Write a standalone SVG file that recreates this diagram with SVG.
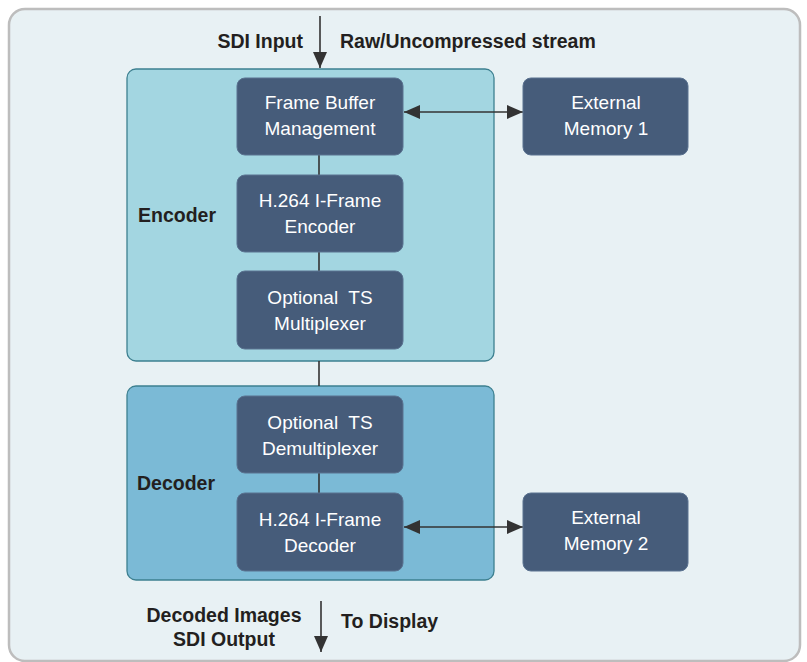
<svg xmlns="http://www.w3.org/2000/svg" width="807" height="662" viewBox="0 0 807 662">
<defs>
<marker id="ah" viewBox="0 0 16 14" refX="16" refY="7" markerWidth="16" markerHeight="14" markerUnits="userSpaceOnUse" orient="auto-start-reverse">
<path d="M0,0 L16,7 L0,14 Z" fill="#333333"/>
</marker>
<style>
.blk{fill:#465c7a;stroke:#5a7290;stroke-width:1}
.bt{font-family:"Liberation Sans",Arial,sans-serif;font-size:19px;fill:#ffffff;text-anchor:middle;white-space:pre}
.lb{font-family:"Liberation Sans",Arial,sans-serif;font-size:19.5px;font-weight:bold;fill:#231f20}
.ln{stroke:#333333;stroke-width:1.6;fill:none}
</style>
</defs>
<rect x="9" y="9" width="791" height="652" rx="16" fill="#e8f1f4" stroke="#bdbdbd" stroke-width="2.5"/>
<g id="encoder">
<rect x="127" y="69" width="367" height="292" rx="9" fill="#a3d6e1" stroke="#3d8090" stroke-width="1.3"/>
<text class="lb" x="138" y="222">Encoder</text>
</g>
<g id="decoder">
<rect x="127" y="386" width="367" height="194" rx="9" fill="#7bbad6" stroke="#3d8090" stroke-width="1.3"/>
<text class="lb" x="137" y="490">Decoder</text>
</g>
<g id="connectors">
<line class="ln" x1="320" y1="16" x2="320" y2="68" marker-end="url(#ah)"/>
<line class="ln" x1="404" y1="112" x2="523" y2="112" marker-start="url(#ah)" marker-end="url(#ah)"/>
<line class="ln" x1="319" y1="155" x2="319" y2="175"/>
<line class="ln" x1="319" y1="252" x2="319" y2="271"/>
<line class="ln" x1="319" y1="361" x2="319" y2="386"/>
<line class="ln" x1="319" y1="473" x2="319" y2="493"/>
<line class="ln" x1="404" y1="527" x2="523" y2="527" marker-start="url(#ah)" marker-end="url(#ah)"/>
<line class="ln" x1="321" y1="601" x2="321" y2="652" marker-end="url(#ah)"/>
</g>
<g id="frame-buffer">
<rect class="blk" x="237" y="78" width="166" height="77" rx="8"/>
<text class="bt" x="320" y="109">Frame Buffer</text>
<text class="bt" x="320" y="135">Management</text>
</g>
<g id="h264-encoder">
<rect class="blk" x="237" y="175" width="166" height="77" rx="8"/>
<text class="bt" x="320" y="207">H.264 I-Frame</text>
<text class="bt" x="320" y="233">Encoder</text>
</g>
<g id="ts-mux">
<rect class="blk" x="237" y="271" width="166" height="78" rx="8"/>
<text class="bt" x="320" y="304">Optional  TS</text>
<text class="bt" x="320" y="330">Multiplexer</text>
</g>
<g id="ts-demux">
<rect class="blk" x="237" y="396" width="166" height="77" rx="8"/>
<text class="bt" x="320" y="429">Optional  TS</text>
<text class="bt" x="320" y="455">Demultiplexer</text>
</g>
<g id="h264-decoder">
<rect class="blk" x="237" y="493" width="166" height="78" rx="8"/>
<text class="bt" x="320" y="526">H.264 I-Frame</text>
<text class="bt" x="320" y="552">Decoder</text>
</g>
<g id="ext-mem-1">
<rect class="blk" x="523" y="78" width="165" height="77" rx="8"/>
<text class="bt" x="606" y="109">External</text>
<text class="bt" x="606" y="135">Memory 1</text>
</g>
<g id="ext-mem-2">
<rect class="blk" x="523" y="493" width="165" height="78" rx="8"/>
<text class="bt" x="606" y="524">External</text>
<text class="bt" x="606" y="550">Memory 2</text>
</g>
<g id="labels">
<text class="lb" x="303" y="48" text-anchor="end">SDI Input</text>
<text class="lb" x="340" y="48">Raw/Uncompressed stream</text>
<text class="lb" x="224" y="622" text-anchor="middle">Decoded Images</text>
<text class="lb" x="224" y="646" text-anchor="middle">SDI Output</text>
<text class="lb" x="341" y="628">To Display</text>
</g>
</svg>
